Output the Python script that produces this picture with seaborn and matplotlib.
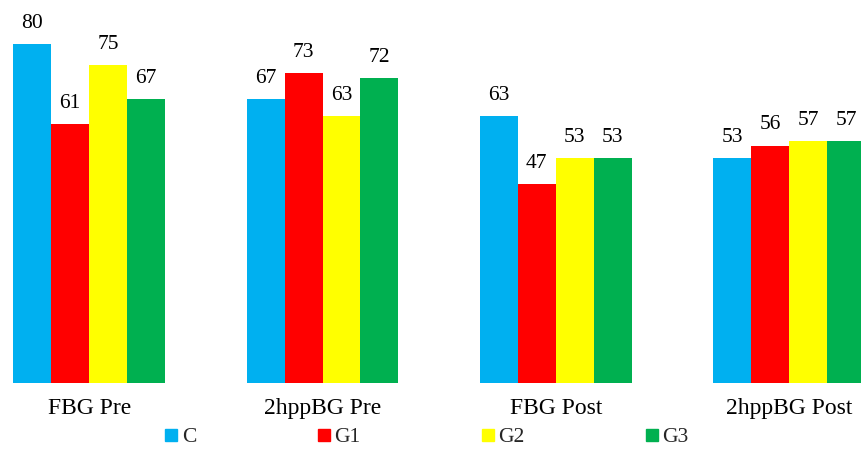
import matplotlib
matplotlib.use("Agg")
import matplotlib.pyplot as plt
from matplotlib.lines import Line2D
import pandas as pd
import seaborn as sns

# Blood glucose groups and series values
groups = ["FBG Pre", "2hppBG Pre", "FBG Post", "2hppBG Post"]
series = ["C", "G1", "G2", "G3"]
values_c = [80, 67, 63, 53]
values_g1 = [61, 73, 47, 56]
values_g2 = [75, 63, 53, 57]
values_g3 = [67, 72, 53, 57]
colors = ["#00B0F0", "#FF0000", "#FFFF00", "#00B050"]

rows = []
for name, vals in zip(series, [values_c, values_g1, values_g2, values_g3]):
    for g, v in zip(groups, vals):
        rows.append({"group": g, "series": name, "value": v})
df = pd.DataFrame(rows)

sns.set_style("white")
plt.rcParams["font.family"] = ["Liberation Serif", "DejaVu Serif"]

fig = plt.figure(figsize=(8.61, 4.55), dpi=100)
ax = fig.add_axes([0.0, 72 / 455, 1.0, 381.6 / 455])

sns.barplot(data=df, x="group", y="value", hue="series", order=groups,
            hue_order=series, palette=colors, width=0.65, saturation=1,
            linewidth=0, legend=False, ax=ax)

for cont in ax.containers:
    ax.bar_label(cont, fmt="%d", padding=8, fontsize=15.5, color="black")

ax.set_ylim(0, 90)
ax.set_xlim(-0.3823, 3.308)
ax.set_xlabel("")
ax.set_ylabel("")
ax.set_yticks([])
ax.tick_params(axis="x", length=0, pad=11, labelsize=17, colors="black")
for s in ax.spines.values():
    s.set_visible(False)
ax.patch.set_alpha(0)

handles = [Line2D([0], [0], marker="s", linestyle="none", markersize=9,
                  markerfacecolor=c, markeredgecolor=c) for c in colors]
fig.legend(handles, series, loc="center left",
           bbox_to_anchor=(165 / 861, 1 - 437 / 455), ncol=4, frameon=False,
           fontsize=15.5, handlelength=0.6, handletextpad=0.2,
           columnspacing=5.6, borderpad=0, borderaxespad=0)

fig.savefig("out.png", dpi=100)
